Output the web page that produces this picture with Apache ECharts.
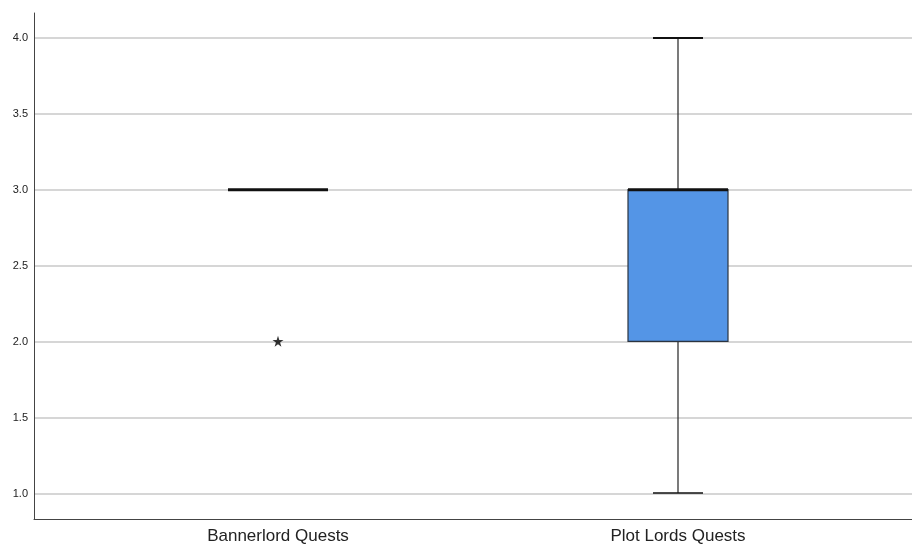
<!DOCTYPE html>
<html><head><meta charset="utf-8">
<script src="https://cdn.jsdelivr.net/npm/echarts@6/dist/echarts.min.js"></script>
<style>html,body{margin:0;padding:0;background:#fff}#c{width:912px;height:545px}</style>
</head><body><div id="c"></div>
<script>
const categories = ['Bannerlord Quests', 'Plot Lords Quests'];
// [min, Q1, median, Q3, max]
const boxStats = [
  [3, 3, 3, 3, 3],
  [1, 2, 3, 3, 4]
];
// outliers: [categoryIndex, value]
const outliers = [[0, 2]];
const yTicks = [1.0, 1.5, 2.0, 2.5, 3.0, 3.5, 4.0];

const chart = echarts.init(document.getElementById('c'), null, {renderer: 'canvas'});
const boxData = boxStats.map((s, i) => [i].concat(s));

const starPath = 'path://M50,0 L61.8,35.4 L100,35.4 L69.1,57.3 L80.9,93.3 L50,71.4 L19.1,93.3 L30.9,57.3 L0,35.4 L38.2,35.4 Z';

chart.setOption({
  animation: false,
  grid: [
    {left: 34, right: 0, top: 38, bottom: 51},
    {left: 34, right: 0, top: 13, bottom: 26},
    {left: 78, right: 34, top: 38, bottom: 51}
  ],
  xAxis: [
    {gridIndex: 0, type: 'value', show: false, min: 0, max: 1},
    {gridIndex: 1, type: 'value', min: 0, max: 1, axisLine: {show: true, onZero: false, lineStyle: {color: '#444', width: 1}},
      axisTick: {show: false}, axisLabel: {show: false}, splitLine: {show: false}},
    {gridIndex: 2, type: 'category', data: categories, offset: 25,
      axisLine: {show: false}, axisTick: {show: false},
      axisLabel: {show: true, margin: 10, fontSize: 17, color: '#222', fontFamily: 'Liberation Sans, Arial, sans-serif'}}
  ],
  yAxis: [
    {gridIndex: 0, type: 'value', min: yTicks[0], max: yTicks[yTicks.length - 1], interval: 0.5,
      axisLine: {show: false}, axisTick: {show: false},
      axisLabel: {margin: 6, fontSize: 11, color: '#222', fontFamily: 'Liberation Sans, Arial, sans-serif',
        formatter: v => v.toFixed(1)},
      splitLine: {show: true, lineStyle: {color: '#d6d6d6', width: 2}}},
    {gridIndex: 1, type: 'value', min: 0, max: 1,
      axisLine: {show: true, onZero: false, lineStyle: {color: '#444', width: 1}},
      axisTick: {show: false}, axisLabel: {show: false}, splitLine: {show: false}},
    {gridIndex: 2, type: 'value', min: yTicks[0], max: yTicks[yTicks.length - 1], show: false}
  ],
  series: [
    {
      type: 'custom',
      xAxisIndex: 2, yAxisIndex: 2,
      data: boxData,
      renderItem: function (params, api) {
        const idx = api.value(0);
        const mn = api.value(1), q1 = api.value(2), md = api.value(3), q3 = api.value(4), mx = api.value(5);
        const band = api.size([1, 0])[0];
        const bw = band * 0.25, cw = band * 0.125;
        const pMin = api.coord([idx, mn]), pQ1 = api.coord([idx, q1]), pMd = api.coord([idx, md]),
              pQ3 = api.coord([idx, q3]), pMax = api.coord([idx, mx]);
        const cx = pMd[0];
        const children = [];
        if (mx > q3) {
          children.push({type: 'line', shape: {x1: cx, y1: pMax[1], x2: cx, y2: pQ3[1]}, style: {stroke: '#222', lineWidth: 1.2}});
          children.push({type: 'line', shape: {x1: cx - cw / 2, y1: pMax[1], x2: cx + cw / 2, y2: pMax[1]}, style: {stroke: '#111', lineWidth: 2}});
        }
        if (mn < q1) {
          children.push({type: 'line', shape: {x1: cx, y1: pQ1[1], x2: cx, y2: pMin[1]}, style: {stroke: '#222', lineWidth: 1.2}});
          children.push({type: 'line', shape: {x1: cx - cw / 2, y1: pMin[1], x2: cx + cw / 2, y2: pMin[1]}, style: {stroke: '#111', lineWidth: 1.5}});
        }
        if (q3 > q1) {
          children.push({type: 'rect', shape: {x: cx - bw / 2, y: pQ3[1], width: bw, height: pQ1[1] - pQ3[1]},
            style: {fill: '#5495e6', stroke: '#2b3440', lineWidth: 1.2}});
        }
        children.push({type: 'line', shape: {x1: cx - bw / 2, y1: pMd[1], x2: cx + bw / 2, y2: pMd[1]}, style: {stroke: '#111', lineWidth: 3}});
        return {type: 'group', children: children};
      }
    },
    {
      type: 'scatter',
      xAxisIndex: 2, yAxisIndex: 2,
      data: outliers,
      symbol: starPath,
      symbolSize: 11,
      itemStyle: {color: '#000'}
    }
  ]
});
</script></body></html>
